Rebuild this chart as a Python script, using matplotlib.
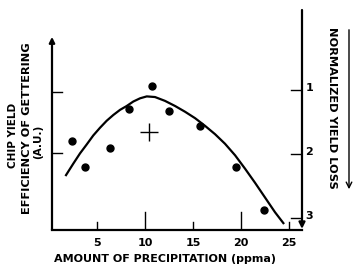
import matplotlib
matplotlib.use("Agg")
import matplotlib.pyplot as plt

# measured points: precipitation (ppma) vs normalized yield loss (inverted axis)
pts_x = [2.36, 3.75, 6.35, 8.36, 10.7, 12.47, 15.76, 19.48, 22.4]
pts_y = [1.80, 2.20, 1.90, 1.30, 0.94, 1.33, 1.56, 2.20, 2.88]

# hand-drawn trend curve
curve_x = [1.77, 2.53, 3.23, 3.93, 4.61, 5.31, 6.01, 6.70, 7.40, 8.09, 8.78,
           9.48, 10.18, 11.04, 12.08, 13.13, 14.17, 15.21, 16.25, 17.29,
           18.33, 19.38, 20.42, 21.46, 22.50, 23.54, 24.41]
curve_y = [2.33, 2.15, 1.99, 1.85, 1.71, 1.59, 1.48, 1.39, 1.31, 1.25, 1.18,
           1.13, 1.10, 1.11, 1.17, 1.25, 1.34, 1.44, 1.56, 1.69,
           1.84, 2.02, 2.23, 2.45, 2.68, 2.91, 3.08]

# mean marker with error cross
cross_x, cross_y = 10.45, 1.65
cross_dx, cross_dy = 0.94, 0.14

xticks = [5, 10, 15, 20, 25]
left_ticks = [1.03, 1.98]
right_ticks = [1, 2, 3]

FONT = dict(family="DejaVu Sans", weight="bold")

fig = plt.figure(figsize=(3.57, 2.72), dpi=100)
ax = fig.add_axes([52 / 357, 1 - 230 / 272, 250 / 357, 220 / 272])
ax.set_xlim(0.31, 26.35)
ax.set_ylim(3.1875, -0.25)

for s in ("top", "left", "right"):
    ax.spines[s].set_visible(False)
ax.spines["bottom"].set_linewidth(1.6)

ax.plot(curve_x, curve_y, color="black", lw=1.6, solid_joinstyle="round")
ax.plot(pts_x, pts_y, "o", color="black", ms=5)
ax.errorbar([cross_x], [cross_y], xerr=[cross_dx], yerr=[cross_dy],
            fmt="none", ecolor="black", elinewidth=1.0, capsize=0)

# left axis with arrow at top
x0, x1 = ax.get_xlim()
ax.annotate("", xy=(x0, 0.17), xytext=(x0, 3.1875),
            arrowprops=dict(arrowstyle="-|>", color="black", lw=1.6,
                            mutation_scale=8, shrinkA=0, shrinkB=0))
for t in left_ticks:
    ax.plot([x0, x0 + 1.0], [t, t], color="black", lw=1.0)

# right axis with arrow at bottom
ax.annotate("", xy=(x1, 3.17), xytext=(x1, -0.25),
            arrowprops=dict(arrowstyle="-|>", color="black", lw=1.6,
                            mutation_scale=9, shrinkA=0, shrinkB=0))
for t in right_ticks:
    ax.plot([x1 - 1.1, x1], [t, t], color="black", lw=1.0)
    ax.text(x1 + 0.35, t - 0.03, str(t), ha="left", va="center",
            fontsize=8, **FONT)

# x ticks drawn inward, alternating length
ax.set_xticks(xticks)
ax.set_xticklabels([str(v) for v in xticks], fontsize=8, fontweight="bold")
ax.tick_params(axis="x", direction="in", length=0, pad=6)
ax.set_yticks([])
for v in xticks:
    ln = 0.28 if v % 10 == 0 else 0.13
    ax.plot([v, v], [3.1875, 3.1875 - ln], color="black", lw=1.0)

ax.set_xlabel("AMOUNT OF PRECIPITATION (ppma)", fontsize=8, **FONT)
ax.xaxis.set_label_coords(0.45, -0.11)

# left rotated labels
fig.text(13 / 357, 1 - 135 / 272, "CHIP YIELD", rotation=90, ha="center",
         va="center", fontsize=7.5, **FONT)
fig.text(27 / 357, 1 - 128 / 272, "EFFICIENCY OF GETTERING", rotation=90,
         ha="center", va="center", fontsize=8.2, **FONT)
fig.text(38 / 357, 1 - 142 / 272, "(A.U.)", rotation=90, ha="center",
         va="center", fontsize=7.5, **FONT)

# right rotated label with arrow
fig.text(332 / 357, 1 - 108 / 272, "NORMALIZED YIELD LOSS", rotation=-90,
         ha="center", va="center", fontsize=8.2, **FONT)
fig.add_artist(matplotlib.patches.FancyArrowPatch(
    (349 / 357, 1 - 27 / 272), (349 / 357, 1 - 192 / 272),
    transform=fig.transFigure, arrowstyle="->", mutation_scale=10,
    color="black", lw=1.0))

fig.savefig("out.png", dpi=100)
